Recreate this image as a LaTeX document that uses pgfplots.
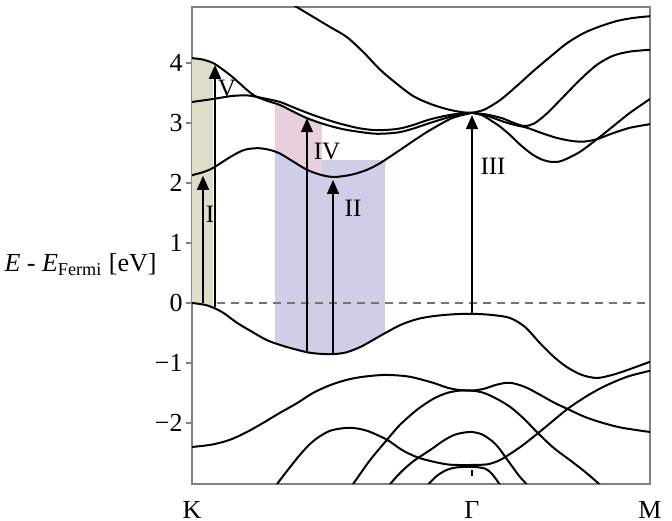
\documentclass[border=0pt]{standalone}
\usepackage{fontspec}
\setmainfont{Liberation Serif}
\usepackage{pgfplots}
\pgfplotsset{compat=1.18}
\usepgfplotslibrary{fillbetween}
\usetikzlibrary{arrows.meta}
\definecolor{kfill}{RGB}{223,220,199}
\definecolor{pinkfill}{RGB}{232,207,221}
\definecolor{bluefill}{RGB}{206,206,231}
\definecolor{frame}{RGB}{128,128,128}
\tikzset{
    band/.style={black, line width=1pt, smooth},
    arr/.style={black, line width=0.75pt, -{Triangle[length=7pt,width=6pt]}},
    lab/.style={font=\fontsize{12.5}{14}\selectfont},
}

\begin{document}
\begin{tikzpicture}
\begin{axis}[
    name=ax, set layers,
    scale only axis, width=229pt, height=238.5pt,
    xmin=0, xmax=458, ymin=-3.017, ymax=4.933,
    axis line style={frame, line width=0.6pt},
    xtick={0,280,458}, xticklabels={K,Γ,M}, xtick style={draw=none},
    ytick={-2,...,4}, yticklabels={−2,−1,0,1,2,3,4},
    ytick pos=left, xtick pos=bottom, tick align=outside,
    major tick length=3pt,
    ytick style={frame, line width=0.6pt},
    tick label style={font=\fontsize{13}{15}\selectfont},
    yticklabel style={inner sep=1.5pt},
    xticklabel style={yshift=-2pt},
]

% conduction bands K -> Gamma
\addplot[band, name path=c1] coordinates {
 (0,2.13)(11,2.18)(21,2.25)(38,2.43)(52,2.55)(66,2.58)(78,2.55)(88,2.49)
 (100,2.37)(115,2.22)(130,2.13)(143,2.1)(160,2.14)(175,2.22)(188,2.33)
 (208,2.55)(223,2.72)(238,2.88)(260,3.08)(280,3.17)};
\addplot[band] coordinates {
 (0,3.35)(21,3.4)(40,3.45)(55,3.46)(63,3.44)(75,3.4)(88,3.35)(100,3.27)
 (115,3.17)(132,3.07)(150,2.98)(168,2.91)(185,2.88)(205,2.9)(220,2.96)
 (238,3.06)(260,3.14)(280,3.17)};
\addplot[band, name path=c3] coordinates {
 (0,4.08)(10,4.06)(21,4.0)(30,3.9)(38,3.8)(47,3.67)(55,3.55)(63,3.45)
 (75,3.37)(88,3.3)(100,3.2)(115,3.08)(132,2.98)(150,2.9)(168,2.85)
 (185,2.82)(205,2.84)(220,2.9)(238,3.0)(260,3.11)(280,3.17)};
\addplot[band] coordinates {
 (90,5.08)(105,4.93)(120,4.78)(138,4.6)(155,4.43)(172,4.17)(188,3.89)
 (205,3.65)(221,3.45)(238,3.32)(255,3.23)(270,3.18)(280,3.17)};

% conduction bands Gamma -> M
\addplot[band] coordinates {
 (280,3.17)(292,3.22)(308,3.38)(325,3.62)(341,3.86)(358,4.1)(375,4.33)
 (392,4.5)(408,4.61)(425,4.7)(441,4.75)(458,4.78)};
\addplot[band] coordinates {
 (280,3.17)(295,3.14)(310,3.08)(322,3.0)(332,2.95)(342,2.99)(355,3.16)
 (371,3.43)(388,3.72)(405,3.97)(421,4.12)(438,4.19)(458,4.22)};
\addplot[band] coordinates {
 (280,3.17)(295,3.12)(310,3.03)(322,2.97)(335,2.92)(350,2.83)(365,2.75)
 (380,2.7)(392,2.69)(405,2.73)(421,2.83)(438,2.92)(458,2.98)};
\addplot[band] coordinates {
 (280,3.17)(290,3.13)(300,3.03)(308,2.94)(318,2.8)(328,2.64)(340,2.48)
 (350,2.39)(360,2.35)(370,2.37)(388,2.52)(408,2.77)(423,2.97)(438,3.17)
 (458,3.4)};

% valence bands
\addplot[band, name path=v1] coordinates {
 (0,0)(15,-0.04)(30,-0.15)(45,-0.33)(60,-0.48)(75,-0.62)(90,-0.71)
 (105,-0.78)(118,-0.83)(131,-0.85)(143,-0.85)(155,-0.82)(170,-0.72)
 (188,-0.55)(208,-0.37)(225,-0.27)(241,-0.22)(260,-0.19)(280,-0.18)
 (300,-0.2)(318,-0.25)(333,-0.4)(348,-0.67)(362,-0.9)(375,-1.07)
 (390,-1.2)(405,-1.25)(420,-1.2)(435,-1.12)(458,-0.98)};
\addplot[band] coordinates {
 (0,-2.4)(20,-2.36)(38,-2.28)(55,-2.15)(71,-2.0)(88,-1.83)(105,-1.67)
 (121,-1.5)(138,-1.37)(155,-1.28)(171,-1.23)(191,-1.2)(208,-1.21)
 (221,-1.24)(241,-1.33)(255,-1.41)(267,-1.45)(280,-1.46)(292,-1.43)
 (305,-1.36)(318,-1.33)(333,-1.4)(348,-1.53)(362,-1.66)(376,-1.77)
 (393,-1.9)(411,-2.0)(430,-2.08)(458,-2.15)};
\addplot[band] coordinates {
 (78,-3.2)(85,-3.02)(95,-2.8)(108,-2.53)(118,-2.35)(128,-2.22)(140,-2.12)
 (158,-2.08)(175,-2.13)(195,-2.28)(210,-2.45)(225,-2.57)(240,-2.64)
 (255,-2.69)(265,-2.7)(280,-2.7)(295,-2.69)(305,-2.64)(313,-2.57)
 (330,-2.38)(346,-2.17)(362,-1.95)(376,-1.76)(393,-1.57)(411,-1.4)
 (435,-1.23)(458,-1.13)};
\addplot[band] coordinates {
 (155,-3.15)(161,-3.02)(178,-2.62)(195,-2.28)(208,-2.03)(225,-1.78)
 (241,-1.6)(255,-1.5)(268,-1.46)(280,-1.46)(292,-1.5)(305,-1.6)
 (318,-1.73)(332,-1.93)(346,-2.17)(362,-2.42)(378,-2.62)(392,-2.8)
 (406,-3.0)(412,-3.1)};
\addplot[band] coordinates {
 (192,-3.15)(198,-3.02)(206,-2.87)(214,-2.74)(222,-2.63)(230,-2.54)
 (240,-2.43)(251,-2.3)(262,-2.2)(272,-2.16)(280,-2.15)(290,-2.19)
 (300,-2.3)(307,-2.42)(313,-2.56)(320,-2.72)(327,-2.88)(335,-3.03)
 (340,-3.15)};
\addplot[band] coordinates {
 (228,-3.2)(236,-3.03)(245,-2.88)(255,-2.78)(265,-2.74)(280,-2.73)
 (293,-2.76)(300,-2.85)(308,-3.03)(315,-3.2)};

% shaded regions
\addplot[draw=none, name path=btop] coordinates {(80,2.6)(130,2.6)(130,2.38)(200,2.38)};
\addplot[fill=bluefill, draw=none] fill between[of=v1 and btop, soft clip={domain=83:193}];
\addplot[fill=pinkfill, draw=none] fill between[of=c1 and c3, soft clip={domain=83:130}];
\addplot[fill=kfill, draw=none] fill between[of=v1 and c3, soft clip={domain=0:21}];

% Fermi level
\addplot[frame!90!black, line width=0.8pt, dash pattern=on 4pt off 3pt] coordinates {(25,0)(458,0)};

% transitions
\addplot[arr] coordinates {(11,0)(11,2.12)};
\addplot[arr] coordinates {(23,-0.07)(23,3.97)};
\addplot[arr] coordinates {(115,-0.8)(115,3.08)};
\addplot[arr] coordinates {(141,-0.85)(141,2.05)};
\addplot[arr] coordinates {(280,-0.18)(280,3.13)};
\addplot[black, line width=0.9pt] coordinates {(280,-2.79)(280,-2.88)};

\node[lab] at (axis cs:18,1.47) {I};
\node[lab] at (axis cs:35,3.57) {V};
\node[lab] at (axis cs:135,2.52) {IV};
\node[lab] at (axis cs:161,1.57) {II};
\node[lab] at (axis cs:301,2.28) {III};
\end{axis}
\node[anchor=base east, inner sep=0pt, font=\fontsize{13}{15}\selectfont]
  at ([shift={(-17.5pt,-13.25pt)}]ax.west)
  {\textit{E} - \textit{E}\textsubscript{Fermi} [eV]};
\pgfresetboundingbox
\path[use as bounding box] ([shift={(-96pt,-18.5pt)}]ax.south west)
  rectangle ([shift={(11pt,3.5pt)}]ax.north east);
\end{tikzpicture}
\end{document}
